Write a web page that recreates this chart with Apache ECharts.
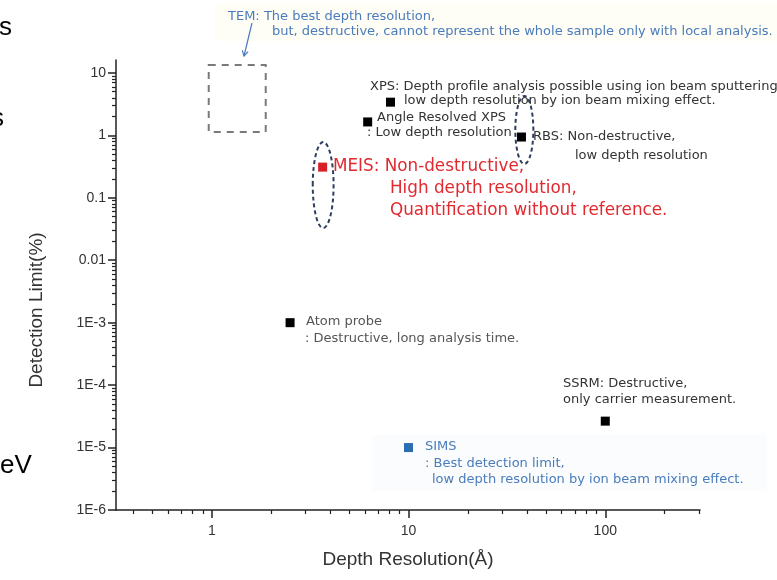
<!DOCTYPE html>
<html><head><meta charset="utf-8">
<script src="https://cdn.jsdelivr.net/npm/echarts@6/dist/echarts.min.js"></script>
<style>html,body{margin:0;padding:0;background:#fff}#c{width:777px;height:580px}</style>
</head><body><div id="c"></div>
<script>
// ---- data ----
const techniques = ['XPS', 'Angle Resolved XPS', 'RBS', 'Atom probe', 'SSRM'];
const depthResolution = [8.1, 6.2, 37.5, 2.5, 100];
const detectionLimit = [3.4, 1.64, 0.94, 1e-3, 2.65e-5];
const meisPoint = [3.66, 0.31];
const simsPoint = [10, 1e-5];
const xTickValues = [1, 10, 100];
const xTickLabels = ['1', '10', '100'];
const yTickValues = [1e-6, 1e-5, 1e-4, 1e-3, 0.01, 0.1, 1, 10];
const yTickLabels = ['1E-6', '1E-5', '1E-4', '1E-3', '0.01', '0.1', '1', '10'];
const minorMultipliers = [2, 3, 4, 5, 6, 7, 8, 9];
const xMinorDecades = [0.1, 1, 10, 100];
const yMinorDecades = [1e-6, 1e-5, 1e-4, 1e-3, 0.01, 0.1, 1, 10];
const xRange = [0.326, 303];
const yRange = [1e-6, 16.1];
// annotation regions [xMin, xMax, yMin, yMax]
const regionNames = ['TEM', 'MEIS', 'RBS'];
const regionKinds = ['rect', 'ellipse', 'ellipse'];
const temBox = [0.965, 1.88, 1.13, 13.4];
const meisEllipse = [3.26, 4.16, 0.0328, 0.78];
const rbsEllipse = [34.9, 43.1, 0.348, 4.28];

function minorTicks(decades, range) {
  const out = [];
  decades.forEach(d => minorMultipliers.forEach(m => {
    const v = d * m;
    if (v > range[0] && v < range[1]) out.push(v);
  }));
  return out;
}
const xMinor = minorTicks(xMinorDecades, xRange);
const yMinor = minorTicks(yMinorDecades, yRange);

function lookup(values, labels) {
  return function (v) {
    const i = values.findIndex(t => Math.abs(Math.log10(t) - Math.log10(v)) < 1e-6);
    return i >= 0 ? labels[i] : '';
  };
}

const AX = '#222';
const LBL = { fontSize: 14, color: '#333', fontFamily: 'Liberation Sans' };
const gridBox = { left: 116, right: 77, top: 60, bottom: 70 };

const chart = echarts.init(document.getElementById('c'), null, { renderer: 'canvas' });

const FONT = '"DejaVu Sans"';
function txt(x, y, text, color, size, fam) {
  return {
    type: 'text', x: x, y: y, z: 50,
    style: {
      text: text, fill: color, font: (size || 13) + 'px ' + (fam || FONT),
      verticalAlign: 'middle', textVerticalAlign: 'middle', align: 'left'
    }
  };
}
const DARK = '#333';
const BLUE = '#4a7cbc';
const RED = '#e02a30';
const GRAY = '#555';

chart.setOption({
  animation: false,
  backgroundColor: '#fff',
  grid: [Object.assign({}, gridBox), Object.assign({}, gridBox)],
  xAxis: [
    {
      gridIndex: 0, type: 'log', logBase: 10, min: xRange[0], max: xRange[1],
      axisLine: { onZero: false, lineStyle: { color: AX, width: 1.5 } },
      axisTick: { customValues: xTickValues, length: 8, lineStyle: { color: AX, width: 1.5 } },
      axisLabel: Object.assign({ customValues: xTickValues, margin: 14, formatter: lookup(xTickValues, xTickLabels) }, LBL),
      splitLine: { show: false }, minorTick: { show: false },
      name: 'Depth Resolution(Å)', nameLocation: 'middle', nameGap: 40,
      nameTextStyle: { fontSize: 19, color: '#333', fontFamily: 'Liberation Sans' }
    },
    {
      gridIndex: 1, type: 'log', logBase: 10, min: xRange[0], max: xRange[1],
      axisLine: { show: false, onZero: false },
      axisTick: { customValues: xMinor, length: 4, lineStyle: { color: AX, width: 1.2 } },
      axisLabel: { show: false }, splitLine: { show: false }
    }
  ],
  yAxis: [
    {
      gridIndex: 0, type: 'log', logBase: 10, min: yRange[0], max: yRange[1],
      axisLine: { onZero: false, lineStyle: { color: AX, width: 1.5 } },
      axisTick: { customValues: yTickValues, length: 8, lineStyle: { color: AX, width: 1.5 } },
      axisLabel: Object.assign({ customValues: yTickValues, margin: 10, formatter: lookup(yTickValues, yTickLabels) }, LBL),
      splitLine: { show: false }, minorTick: { show: false },
      name: 'Detection Limit(%)', nameLocation: 'middle', nameGap: 70, nameRotate: 90,
      nameTextStyle: { fontSize: 19, color: '#333', fontFamily: 'Liberation Sans', padding: [0, 50, 0, 0] }
    },
    {
      gridIndex: 1, type: 'log', logBase: 10, min: yRange[0], max: yRange[1],
      axisLine: { show: false, onZero: false },
      axisTick: { customValues: yMinor, length: 4, lineStyle: { color: AX, width: 1.2 } },
      axisLabel: { show: false }, splitLine: { show: false }
    }
  ],
  graphic: [
    { type: 'rect', z: 0, shape: { x: 215, y: 3, width: 562, height: 38 }, style: { fill: '#fefdf6' } },
    { type: 'rect', z: 0, shape: { x: 372, y: 435, width: 395, height: 56 }, style: { fill: '#fafcfd' } },
    { type: 'line', z: 50, shape: { x1: 252, y1: 23, x2: 244, y2: 56 }, style: { stroke: BLUE, lineWidth: 1.2 } },
    { type: 'polyline', z: 50, shape: { points: [[242.3, 50.3], [244, 56], [248.1, 51.6]] }, style: { stroke: BLUE, lineWidth: 1.2, fill: null } },
    txt(228, 17, 'TEM: The best depth resolution,', BLUE),
    txt(272, 32, 'but, destructive, cannot represent the whole sample only with local analysis.', BLUE),
    txt(370, 87, 'XPS: Depth profile analysis possible using ion beam sputtering,', DARK),
    txt(404, 101, 'low depth resolution by ion beam mixing effect.', DARK),
    txt(377, 118, 'Angle Resolved XPS', DARK),
    txt(367, 133, ': Low depth resolution', DARK),
    txt(533, 137, 'RBS: Non-destructive,', DARK),
    txt(575, 156, 'low depth resolution', DARK),
    txt(333, 167, 'MEIS: Non-destructive,', RED, 16.8),
    txt(390, 189, 'High depth resolution,', RED, 16.8),
    txt(390, 211, 'Quantification without reference.', RED, 16.8),
    txt(306, 322, 'Atom probe', GRAY),
    txt(305, 339, ': Destructive, long analysis time.', GRAY),
    txt(563, 384, 'SSRM: Destructive,', DARK),
    txt(563, 400, 'only carrier measurement.', DARK),
    txt(425, 447, 'SIMS', BLUE),
    txt(425, 464, ': Best detection limit,', BLUE),
    txt(432, 480, 'low depth resolution by ion beam mixing effect.', BLUE),
    txt(-1, 28, 's', '#000', 26, '"Liberation Sans"'),
    txt(-9, 119, 's', '#000', 26, '"Liberation Sans"'),
    txt(0, 466, 'eV', '#000', 26, '"Liberation Sans"')
  ],
  series: [
    {
      type: 'custom', xAxisIndex: 0, yAxisIndex: 0, z: 3,
      encode: { x: [0, 1], y: [2, 3] },
      data: [temBox, meisEllipse, rbsEllipse],
      renderItem: function (params, api) {
        const kind = regionKinds[params.dataIndex];
        const p1 = api.coord([api.value(0), api.value(3)]);
        const p2 = api.coord([api.value(1), api.value(2)]);
        if (kind === 'rect') {
          return {
            type: 'rect',
            shape: { x: p1[0], y: p1[1], width: p2[0] - p1[0], height: p2[1] - p1[1] },
            style: { fill: null, stroke: '#7a7a7a', lineWidth: 2, lineDash: [7, 6] }
          };
        }
        return {
          type: 'ellipse',
          shape: { cx: (p1[0] + p2[0]) / 2, cy: (p1[1] + p2[1]) / 2, rx: (p2[0] - p1[0]) / 2, ry: (p2[1] - p1[1]) / 2 },
          style: { fill: null, stroke: '#2c3d5e', lineWidth: 2, lineDash: [4, 3] }
        };
      }
    },
    {
      type: 'scatter', name: 'techniques', xAxisIndex: 0, yAxisIndex: 0, z: 5,
      symbol: 'rect', symbolSize: 9,
      itemStyle: { color: '#000', opacity: 1 },
      data: techniques.map((t, i) => ({ name: t, value: [depthResolution[i], detectionLimit[i]] }))
    },
    {
      type: 'scatter', name: 'MEIS', xAxisIndex: 0, yAxisIndex: 0, z: 5,
      symbol: 'rect', symbolSize: 9, itemStyle: { color: '#d81e26', opacity: 1 },
      data: [meisPoint]
    },
    {
      type: 'scatter', name: 'SIMS', xAxisIndex: 0, yAxisIndex: 0, z: 5,
      symbol: 'rect', symbolSize: 9, itemStyle: { color: '#2a6db2', opacity: 1 },
      data: [simsPoint]
    }
  ]
});
</script>
</body></html>
